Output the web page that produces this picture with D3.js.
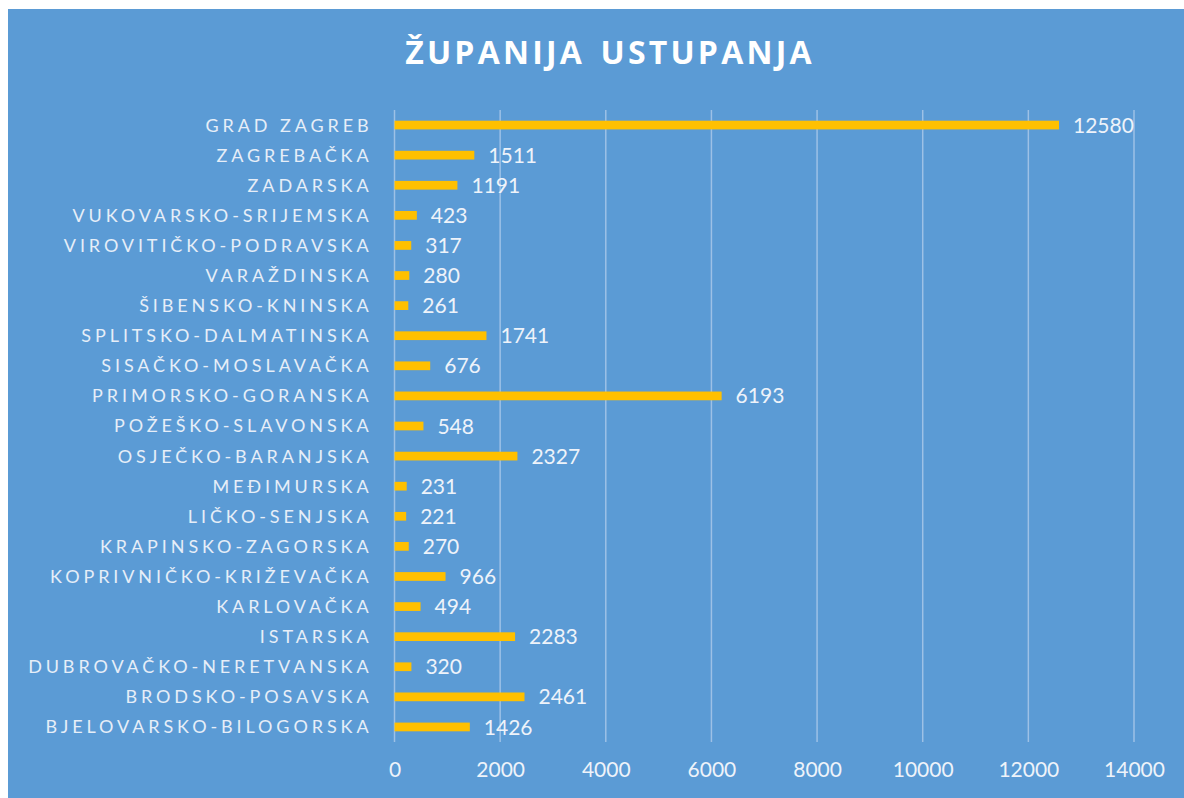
<!DOCTYPE html>
<html><head><meta charset="utf-8">
<script src="https://cdn.jsdelivr.net/npm/d3@7"></script>
<style>html,body{margin:0;padding:0;background:#fff;}svg{display:block;}</style>
</head><body>
<script>
const categories = ["GRAD ZAGREB","ZAGREBAČKA","ZADARSKA","VUKOVARSKO-SRIJEMSKA","VIROVITIČKO-PODRAVSKA","VARAŽDINSKA","ŠIBENSKO-KNINSKA","SPLITSKO-DALMATINSKA","SISAČKO-MOSLAVAČKA","PRIMORSKO-GORANSKA","POŽEŠKO-SLAVONSKA","OSJEČKO-BARANJSKA","MEĐIMURSKA","LIČKO-SENJSKA","KRAPINSKO-ZAGORSKA","KOPRIVNIČKO-KRIŽEVAČKA","KARLOVAČKA","ISTARSKA","DUBROVAČKO-NERETVANSKA","BRODSKO-POSAVSKA","BJELOVARSKO-BILOGORSKA"];
const values = [12580,1511,1191,423,317,280,261,1741,676,6193,548,2327,231,221,270,966,494,2283,320,2461,1426];
const xTicks = [0,2000,4000,6000,8000,10000,12000,14000];
const title = "ŽUPANIJA USTUPANJA";

const W = 1184, H = 798;
const svg = d3.select("body").append("svg").attr("width", W).attr("height", H);
svg.append("rect").attr("x", 8).attr("y", 9).attr("width", W - 8).attr("height", H - 9).attr("fill", "#5b9bd5");

const x = d3.scaleLinear().domain([0, 14000]).range([394.5, 1134]);
const y = d3.scaleBand().domain(categories).range([110, 742]).paddingInner(0.71).paddingOuter(0.355);

svg.append("text").attr("x", 610).attr("y", 64).attr("text-anchor", "middle")
  .attr("font-family", "'Open Sans', sans-serif").attr("font-weight", 700).attr("font-size", 32)
  .attr("letter-spacing", 3.2).attr("word-spacing", 4).attr("fill", "#ffffff").text(title);

const grid = svg.append("g");
grid.selectAll("line").data(xTicks).join("line")
  .attr("x1", d => x(d)).attr("x2", d => x(d)).attr("y1", 110).attr("y2", 742)
  .attr("stroke", "#a9c8ea").attr("stroke-width", 1.5).attr("opacity", 0.85);

const xAxis = svg.append("g").attr("transform", "translate(0,742)")
  .call(d3.axisBottom(x).tickValues(xTicks).tickSize(0).tickPadding(20).tickFormat(d3.format("d")));
xAxis.select(".domain").remove();
xAxis.selectAll("text").attr("font-family", "Lato, sans-serif").attr("font-size", 21).attr("fill", "#eef3fa");

svg.append("g").selectAll("rect").data(categories).join("rect")
  .attr("x", x(0)).attr("y", d => y(d)).attr("width", (d, i) => x(values[i]) - x(0)).attr("height", y.bandwidth())
  .attr("fill", "#ffc000");

svg.append("g").selectAll("text").data(categories).join("text")
  .attr("x", (d, i) => x(values[i]) + 14).attr("y", d => y(d) + y.bandwidth() / 2).attr("dy", "0.36em")
  .attr("font-family", "Lato, sans-serif").attr("font-size", 21).attr("fill", "#eef3fa")
  .text((d, i) => values[i]);

const yAxis = svg.append("g").attr("transform", "translate(394.5,0)")
  .call(d3.axisLeft(y).tickSize(0).tickPadding(22));
yAxis.select(".domain").remove();
yAxis.selectAll("text").attr("font-family", "Lato, sans-serif").attr("font-size", 18).attr("letter-spacing", 3.9).attr("fill", "#e6eef8").attr("dy", "0.36em");
</script>
</body></html>
